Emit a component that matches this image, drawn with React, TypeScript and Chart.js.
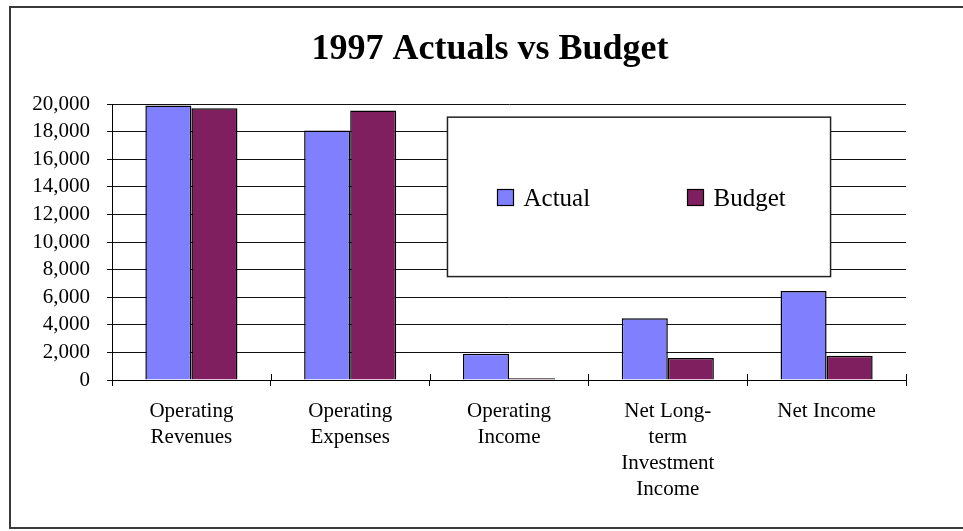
import React, { useEffect, useRef } from 'react';
import { Chart, registerables } from 'chart.js';

Chart.register(...registerables);

const titleText = '1997 Actuals vs Budget';
const categories: string[][] = [
  ['Operating', 'Revenues'],
  ['Operating', 'Expenses'],
  ['Operating', 'Income'],
  ['Net Long-', 'term', 'Investment', 'Income'],
  ['Net Income'],
];
const seriesNames = ['Actual', 'Budget'];
const actualValues = [19900, 18100, 1900, 4480, 6450];
const budgetValues = [19700, 19550, 120, 1600, 1750];
const yMin = 0;
const yMax = 20000;
const yStep = 2000;
const seriesColors = ['#8080FF', '#7F1F5F'];

const FONT = "'Liberation Serif', 'Times New Roman', Times, serif";

const boxLegend = {
  id: 'boxLegend',
  afterLayout(chart: any) {
    const t = chart.titleBlock;
    if (t) {
      t.left = 0;
      t.right = chart.width;
      t.width = chart.width;
    }
  },
  afterDraw(chart: any) {
    const { ctx, chartArea: ca } = chart;
    const w = ca.right - ca.left;
    const h = ca.bottom - ca.top;
    // cross tick marks above the category axis
    ctx.save();
    ctx.strokeStyle = '#000';
    ctx.lineWidth = 1;
    const n = chart.data.labels.length;
    for (let i = 0; i <= n; i++) {
      const x = Math.round(ca.left + (i * w) / n) + 0.5;
      ctx.beginPath();
      ctx.moveTo(x, ca.bottom - 6);
      ctx.lineTo(x, ca.bottom);
      ctx.stroke();
    }
    // legend box
    const l = ca.left + 0.4225 * w;
    const r = ca.left + 0.905 * w;
    const t = ca.top + 0.047 * h;
    const b = ca.top + 0.625 * h;
    ctx.fillStyle = '#ffffff';
    ctx.fillRect(l, t, r - l, b - t);
    ctx.strokeStyle = '#222';
    ctx.lineWidth = 1.5;
    ctx.strokeRect(l, t, r - l, b - t);
    const cy = (t + b) / 2;
    ctx.font = `25px ${FONT}`;
    ctx.textBaseline = 'alphabetic';
    ctx.textAlign = 'left';
    const offs = [50, 240];
    chart.data.datasets.forEach((ds: any, i: number) => {
      const mx = Math.round(l + offs[i]);
      const my = Math.round(cy - 8);
      ctx.fillStyle = ds.backgroundColor;
      ctx.fillRect(mx, my, 16, 16);
      ctx.strokeStyle = '#000';
      ctx.lineWidth = 1.2;
      ctx.strokeRect(mx + 0.5, my + 0.5, 16, 16);
      ctx.fillStyle = '#000';
      ctx.fillText(ds.label, mx + 26.5, cy + 9.5);
    });
    ctx.restore();
  },
};

export default function App() {
  const ref = useRef<HTMLCanvasElement | null>(null);

  useEffect(() => {
    if (!ref.current) return;
    const chart = new Chart(ref.current, {
      type: 'bar',
      data: {
        labels: categories,
        datasets: [
          {
            label: seriesNames[0],
            data: actualValues,
            backgroundColor: seriesColors[0],
            borderColor: '#000',
            borderWidth: 1.5,
            categoryPercentage: 0.58,
            barPercentage: 1,
          },
          {
            label: seriesNames[1],
            data: budgetValues,
            backgroundColor: seriesColors[1],
            borderColor: '#000',
            borderWidth: 1.5,
            categoryPercentage: 0.58,
            barPercentage: 1,
          },
        ],
      },
      options: {
        responsive: false,
        animation: false,
        devicePixelRatio: 1,
        layout: { padding: { top: 28, left: 12, right: 74, bottom: 10 } },
        plugins: {
          legend: { display: false },
          tooltip: { enabled: false },
          title: {
            display: true,
            text: titleText,
            color: '#000',
            font: { family: FONT, size: 36, weight: 'bold', lineHeight: 1.2 },
            padding: { top: 0, bottom: 33 },
          },
        },
        scales: {
          x: {
            afterFit: (s: any) => {
              s.height = 141;
            },
            grid: {
              display: true,
              drawOnChartArea: false,
              drawTicks: true,
              tickLength: 6,
              color: '#000',
              offset: true,
            },
            border: { display: true, color: '#000', width: 1 },
            ticks: {
              color: '#000',
              font: { family: FONT, size: 21, lineHeight: 1.25 },
              padding: 12,
              maxRotation: 0,
              autoSkip: false,
            },
          },
          y: {
            min: yMin,
            max: yMax,
            afterFit: (s: any) => {
              s.width = 100;
            },
            grid: {
              color: '#111',
              lineWidth: 1,
              tickLength: 5,
              drawTicks: true,
            },
            border: { display: true, color: '#000', width: 1 },
            ticks: {
              stepSize: yStep,
              autoSkip: false,
              color: '#000',
              padding: 17,
              font: { family: FONT, size: 21 },
              callback: (v: any) => Number(v).toLocaleString('en-US'),
            },
          },
        },
      },
      plugins: [boxLegend],
    });
    return () => chart.destroy();
  }, []);

  return (
    <div
      style={{
        position: 'fixed',
        left: 0,
        top: 0,
        width: 963,
        height: 531,
        overflow: 'hidden',
        background: '#fff',
      }}
    >
      <div
        style={{
          position: 'absolute',
          left: 9,
          top: 6,
          width: 1000,
          height: 523,
          boxSizing: 'border-box',
          border: '2px solid #3a3a3a',
        }}
      />
      <canvas
        ref={ref}
        width={980}
        height={531}
        style={{ position: 'absolute', left: 0, top: 0, width: 980, height: 531 }}
      />
    </div>
  );
}
